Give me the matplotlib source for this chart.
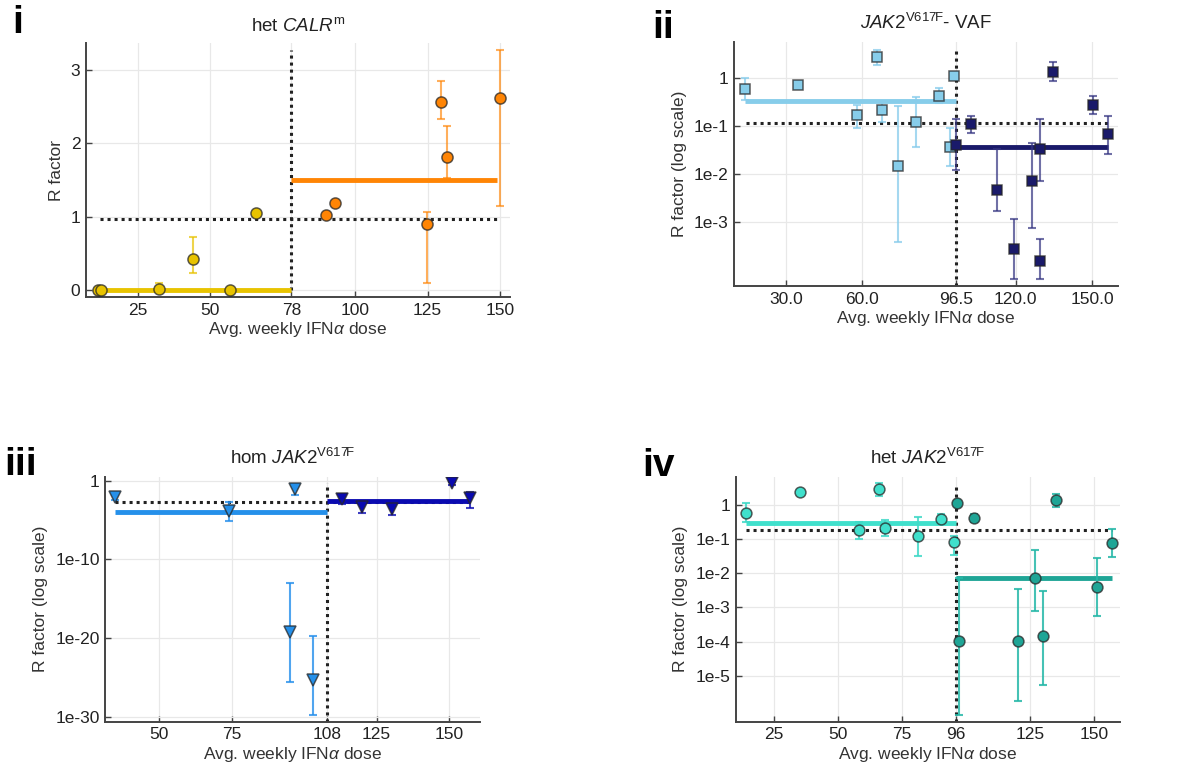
import numpy as np
import matplotlib
matplotlib.use("Agg")
import matplotlib.pyplot as plt

plt.rcParams['font.family'] = ['Liberation Sans', 'DejaVu Sans']
plt.rcParams['mathtext.fontset'] = 'custom'
plt.rcParams['mathtext.rm'] = 'Liberation Sans'
plt.rcParams['mathtext.it'] = 'Liberation Sans:italic'
plt.rcParams['mathtext.bf'] = 'Liberation Sans:bold'

# ---------------- Panel i: het CALRm ----------------
i_low_x = [11.3, 12.4, 32.3, 44.1, 56.9, 65.9]
i_low_y = [0.0, 0.0, 0.01, 0.42, 0.0, 1.05]
i_low_lo = [0.0, 0.0, 0.0, 0.23, 0.0, 1.05]
i_low_hi = [0.0, 0.0, 0.10, 0.72, 0.0, 1.05]
i_high_x = [89.9, 92.9, 124.7, 129.7, 131.7, 150.0]
i_high_y = [1.03, 1.19, 0.90, 2.57, 1.82, 2.62]
i_high_lo = [1.03, 1.19, 0.10, 2.33, 1.53, 1.14]
i_high_hi = [1.03, 1.19, 1.07, 2.85, 2.24, 3.27]
i_threshold = 78
i_mean_low = 0.0
i_mean_high = 1.5
i_ref = 0.97
i_xticks = [25, 50, 78, 100, 125, 150]
i_xticklabels = ['25', '50', '78', '100', '125', '150']
i_yticks = [0, 1, 2, 3]
i_yticklabels = ['0', '1', '2', '3']

# ---------------- Panel ii: JAK2 VAF ----------------
ii_low_x = [14.1, 34.9, 57.8, 65.6, 67.8, 73.9, 80.8, 89.8, 95.7, 94.4]
ii_low_y = [0.57, 0.71, 0.168, 2.73, 0.21, 0.015, 0.12, 0.41, 1.1, 0.037]
ii_low_lo = [0.35, 0.71, 0.09, 1.8, 0.12, 0.0004, 0.037, 0.30, 1.1, 0.015]
ii_low_hi = [1.0, 0.71, 0.27, 3.7, 0.32, 0.26, 0.39, 0.60, 1.1, 0.09]
ii_high_x = [96.7, 102.6, 112.5, 119.5, 126.5, 129.5, 129.5, 134.4, 150.4, 156.2]
ii_high_y = [0.041, 0.108, 0.0046, 0.00028, 0.0072, 0.033, 0.00016, 1.33, 0.275, 0.069]
ii_high_lo = [0.012, 0.07, 0.0017, 0.000066, 0.00077, 0.0073, 0.000066, 0.85, 0.18, 0.026]
ii_high_hi = [0.14, 0.16, 0.034, 0.0012, 0.045, 0.14, 0.00045, 2.1, 0.41, 0.16]
ii_threshold = 96.5
ii_mean_low = 0.33
ii_mean_high = 0.037
ii_ref = 0.113
ii_xticks = [30, 60, 96.5, 120, 150]
ii_xticklabels = ['30.0', '60.0', '96.5', '120.0', '150.0']
ii_yticks = [1, 1e-1, 1e-2, 1e-3]
ii_yticklabels = ['1', '1e-1', '1e-2', '1e-3']

# ---------------- Panel iii: hom JAK2 ----------------
iii_low_x = [34.9, 74.0, 96.9, 95.1, 103.0]
iii_low_y = [10**-2.12, 10**-3.86, 10**-1.06, 10**-19.2, 10**-25.3]
iii_low_lo = [10**-2.5, 10**-5.13, 10**-1.8, 10**-25.5, 10**-29.8]
iii_low_hi = [10**-1.8, 10**-2.67, 10**-0.5, 10**-13.05, 10**-19.7]
iii_high_x = [113.0, 120.1, 130.2, 151.0, 157.1]
iii_high_y = [10**-2.37, 10**-3.3, 10**-3.64, 10**-0.34, 10**-2.25]
iii_high_lo = [10**-3.0, 10**-4.1, 10**-4.3, 10**-0.6, 10**-3.5]
iii_high_hi = [10**-2.0, 10**-2.9, 10**-3.2, 10**-0.2, 10**-1.48]
iii_threshold = 108
iii_mean_low = 10**-3.94
iii_mean_high = 10**-2.58
iii_ref = 10**-2.75
iii_xticks = [50, 75, 108, 125, 150]
iii_xticklabels = ['50', '75', '108', '125', '150']
iii_yticks = [1, 1e-10, 1e-20, 1e-30]
iii_yticklabels = ['1', '1e-10', '1e-20', '1e-30']

# ---------------- Panel iv: het JAK2 ----------------
iv_low_x = [13.9, 35.0, 58.1, 66.1, 68.2, 81.1, 90.0, 95.1]
iv_low_y = [0.60, 2.35, 0.19, 2.9, 0.21, 0.124, 0.39, 0.085]
iv_low_lo = [0.32, 2.35, 0.10, 1.8, 0.12, 0.033, 0.30, 0.035]
iv_low_hi = [1.17, 2.35, 0.32, 4.3, 0.36, 0.46, 0.55, 0.12]
iv_high_x = [96.2, 97.2, 103.2, 120.1, 126.9, 129.9, 135.0, 151.0, 156.9]
iv_high_y = [1.17, 1.04e-4, 0.42, 1.02e-4, 0.0073, 1.5e-4, 1.37, 0.004, 0.079]
iv_high_lo = [1.17, 10**-6.15, 0.32, 10**-5.73, 10**-3.1, 10**-5.27, 0.9, 10**-3.24, 10**-1.51]
iv_high_hi = [1.17, 0.0074, 0.55, 10**-2.47, 10**-1.32, 10**-2.51, 2.1, 10**-1.56, 10**-0.69]
iv_threshold = 96
iv_mean_low = 0.30
iv_mean_high = 0.0074
iv_ref = 0.19
iv_xticks = [25, 50, 75, 96, 125, 150]
iv_xticklabels = ['25', '50', '75', '96', '125', '150']
iv_yticks = [1, 1e-1, 1e-2, 1e-3, 1e-4, 1e-5]
iv_yticklabels = ['1', '1e-1', '1e-2', '1e-3', '1e-4', '1e-5']

titles = [r"het $\mathit{CALR}^{\mathrm{m}}$",
          r"$\mathit{JAK2}^{\mathrm{V617F}}$- VAF",
          r"hom $\mathit{JAK2}^{\mathrm{V617F}}$",
          r"het $\mathit{JAK2}^{\mathrm{V617F}}$"]
xlabel = r"Avg. weekly IFN$\alpha$ dose"

fig = plt.figure(figsize=(11.98, 7.69), dpi=100)

def style(ax, xticks, xtl, yticks, ytl, ylabel):
    for s in ['top', 'right']:
        ax.spines[s].set_visible(False)
    for s in ['left', 'bottom']:
        ax.spines[s].set_color('#444444')
        ax.spines[s].set_linewidth(1.4)
    ax.set_xticks(xticks)
    ax.set_xticklabels(xtl)
    ax.set_yticks(yticks)
    ax.set_yticklabels(ytl)
    ax.minorticks_off()
    ax.tick_params(axis='both', direction='in', length=4, width=1, colors='#444444',
                   labelcolor='#222222', labelsize=12.5, pad=4)
    ax.grid(True, color='#e8e8e8', linewidth=0.9)
    ax.set_axisbelow(True)
    ax.set_xlabel(xlabel, fontsize=12.5, color='#333333', labelpad=2)
    ax.set_ylabel(ylabel, fontsize=12.5, color='#333333', labelpad=5)

def errpts(ax, x, y, lo, hi, color, ecolor, marker, ms):
    x = np.asarray(x); y = np.asarray(y)
    lo = np.asarray(lo); hi = np.asarray(hi)
    err = np.vstack([y - lo, hi - y])
    ax.errorbar(x, y, yerr=err, fmt='none', ecolor=ecolor, elinewidth=1.5,
                capsize=3, capthick=1.5, zorder=3)
    ax.plot(x, y, linestyle='none', marker=marker, markersize=ms,
            markerfacecolor=color, markeredgecolor=(0.15, 0.15, 0.15, 0.75),
            markeredgewidth=1.1, zorder=4)

def panel(rect, title, data, colors, marker, ms, log, xlim, ylim,
          ticks, ylabel, ref_x, thr_y):
    ax = fig.add_axes(rect)
    (lx, ly, llo, lhi, hx, hy, hlo, hhi, thr, mlow, mhigh, ref) = data
    c1, e1, c2, e2 = colors
    if log:
        ax.set_yscale('log')
    # reference dotted lines
    ax.plot(ref_x, [ref, ref], color='#222222', linestyle=(0, (1, 1.3)),
            linewidth=2.2, zorder=2)
    ax.plot([thr, thr], thr_y, color='#222222', linestyle=(0, (1, 1.3)),
            linewidth=2.2, zorder=2)
    # mean lines
    ax.plot([min(lx[0], ref_x[0]), thr], [mlow, mlow],
            color=c1, linewidth=3.5, zorder=2.5, solid_capstyle='butt')
    ax.plot([thr, ref_x[1]], [mhigh, mhigh], color=c2, linewidth=3.5,
            zorder=2.5, solid_capstyle='butt')
    errpts(ax, lx, ly, llo, lhi, c1, e1, marker, ms)
    errpts(ax, hx, hy, hlo, hhi, c2, e2, marker, ms)
    ax.set_xlim(*xlim)
    ax.set_ylim(*ylim)
    style(ax, *ticks, ylabel)
    ax.set_title(title, fontsize=13.5, color='#222222', pad=9)
    return ax

# Panel i
panel([0.0718, 0.6138, 0.3539, 0.3302], titles[0],
      (i_low_x, i_low_y, i_low_lo, i_low_hi, i_high_x, i_high_y, i_high_lo, i_high_hi,
       i_threshold, i_mean_low, i_mean_high, i_ref),
      ('#e8c300', (0.91, 0.76, 0.0, 0.7), '#ff8505', (1.0, 0.52, 0.02, 0.65)),
      'o', 8, False, (7.2, 153.4), (-0.095, 3.37),
      (i_xticks, i_xticklabels, i_yticks, i_yticklabels), 'R factor',
      [12, 149], [0, 3.28])

# Panel ii
panel([0.6127, 0.628, 0.3205, 0.3174], titles[1],
      (ii_low_x, ii_low_y, ii_low_lo, ii_low_hi, ii_high_x, ii_high_y, ii_high_lo, ii_high_hi,
       ii_threshold, ii_mean_low, ii_mean_high, ii_ref),
      ('#87cdea', (0.53, 0.80, 0.92, 0.75), '#1a1a6a', (0.2, 0.2, 0.5, 0.7)),
      's', 6.5, True, (9.75, 160), (10**-4.32, 10**0.74),
      (ii_xticks, ii_xticklabels, ii_yticks, ii_yticklabels), 'R factor (log scale)',
      [14.3, 156], [10**-4.32, 10**0.59])

# Panel iii
panel([0.0879, 0.0615, 0.3128, 0.3186], titles[2],
      (iii_low_x, iii_low_y, iii_low_lo, iii_low_hi, iii_high_x, iii_high_y, iii_high_lo, iii_high_hi,
       iii_threshold, iii_mean_low, iii_mean_high, iii_ref),
      ('#2590ea', (0.15, 0.56, 0.92, 0.8), '#0a0ab0', (0.05, 0.05, 0.7, 0.8)),
      'v', 8, True, (31.4, 160.7), (10**-30.6, 10**0.5),
      (iii_xticks, iii_xticklabels, iii_yticks, iii_yticklabels), 'R factor (log scale)',
      [34.7, 157], [10**-30.6, 10**-0.34])

# Panel iv
panel([0.6141, 0.0615, 0.3208, 0.3186], titles[3],
      (iv_low_x, iv_low_y, iv_low_lo, iv_low_hi, iv_high_x, iv_high_y, iv_high_lo, iv_high_hi,
       iv_threshold, iv_mean_low, iv_mean_high, iv_ref),
      ('#40e0cc', (0.25, 0.85, 0.78, 0.85), '#1fa596', (0.15, 0.72, 0.66, 0.85)),
      'o', 7.8, True, (10, 160), (10**-6.35, 10**0.83),
      (iv_xticks, iv_xticklabels, iv_yticks, iv_yticklabels), 'R factor (log scale)',
      [14, 157], [10**-6.35, 10**0.63])

# Panel labels
lab_kw = dict(fontsize=28, fontweight='bold', color='black', va='top', ha='left')
fig.text(12 / 1198, 1 - 5 / 769, 'i', **lab_kw)
fig.text(652 / 1198, 1 - 10 / 769, 'ii', **lab_kw)
fig.text(4 / 1198, 1 - 447 / 769, 'iii', **lab_kw)
fig.text(642 / 1198, 1 - 448 / 769, 'iv', **lab_kw)

fig.savefig('out.png', dpi=100, facecolor='white')
